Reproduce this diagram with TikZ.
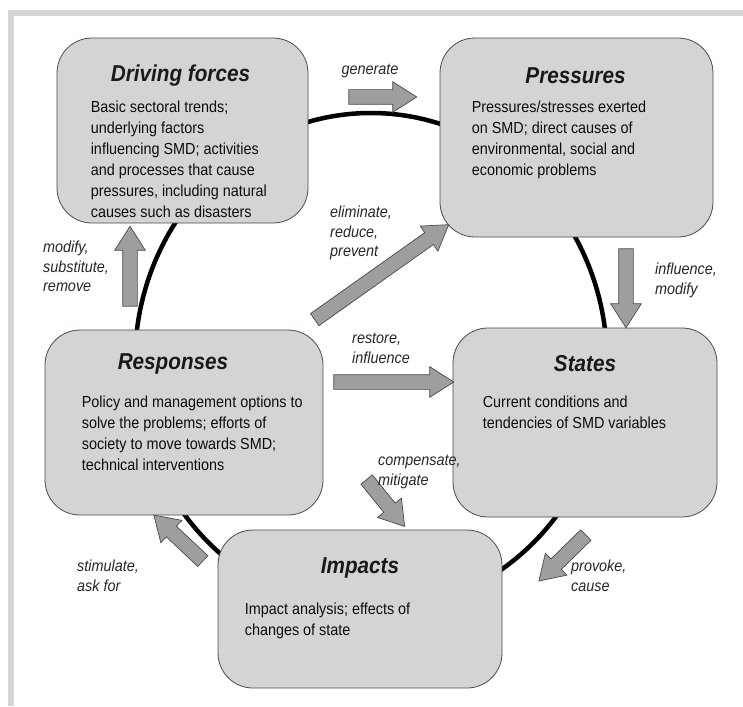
\documentclass[tikz,border=0pt]{standalone}
\usepackage{fontspec}
\setmainfont{Liberation Sans}[FakeStretch=0.9]
\usetikzlibrary{shapes.arrows,calc}
\definecolor{boxgray}{HTML}{D3D4D6}
\definecolor{arrowgray}{HTML}{9E9E9E}
\definecolor{edgegray}{HTML}{4A4A4A}
\definecolor{framegray}{HTML}{D6D6D6}

\begin{document}
\begin{tikzpicture}[x=1pt,y=-1pt,
    block/.style={draw=edgegray, line width=0.8pt, fill=boxgray, rounded corners=35pt, inner sep=0pt},
    heading/.style={font=\fontsize{23}{26}\selectfont\bfseries\itshape, text=black!90, inner sep=0pt},
    desc/.style={anchor=north west, align=left, font=\fontsize{16}{21}\selectfont, text=black!95, inner sep=0pt},
    tag/.style={anchor=north west, align=left, font=\fontsize{16}{19.5}\selectfont\itshape, text=black!85, inner sep=0pt},
    fat/.style={single arrow, draw=edgegray, line width=0.7pt, fill=arrowgray, inner sep=0pt, inner ysep=7pt,
                single arrow head extend=8pt, single arrow tip angle=65, sloped, allow upside down}]
\useasboundingbox (0,0) rectangle (743,706);
% frame
\fill[framegray] (8,10) rectangle (743,16);
\fill[framegray] (8,10) rectangle (14,706);
% ring
\draw[line width=4.5pt] (371,362) ellipse [x radius=236pt, y radius=249pt];

% boxes
\node[block, minimum width=251pt, minimum height=185pt] (drv) at (182.5,130.5) {};
\node[block, minimum width=273pt, minimum height=199pt] (prs) at (576.5,137.5) {};
\node[block, minimum width=278pt, minimum height=185pt] (rsp) at (184,422.5) {};
\node[block, minimum width=264pt, minimum height=189pt] (sta) at (585,422.5) {};
\node[block, minimum width=284pt, minimum height=158pt] (imp) at (360,609) {};

\node[heading] (drv-t) at ($(drv.north)+(-2,38)$) {Driving forces};
\node[heading] (prs-t) at ($(prs.north)+(-1,38)$) {Pressures};
\node[heading] (rsp-t) at ($(rsp.north)+(-11,34)$) {Responses};
\node[heading] (sta-t) at ($(sta.north)+(0,36)$) {States};
\node[heading] (imp-t) at ($(imp.north)+(0,38)$) {Impacts};

\node[desc] (drv-d) at ($(drv.north west)+(34,63)$) {Basic sectoral trends;\\underlying factors\\influencing SMD; activities\\and processes that cause\\pressures, including natural\\causes such as disasters};
\node[desc] (prs-d) at ($(prs.north west)+(32,63)$) {Pressures/stresses exerted\\on SMD; direct causes of\\environmental, social and\\economic problems};
\node[desc] (rsp-d) at ($(rsp.north west)+(37,66)$) {Policy and management options to\\solve the problems; efforts of\\society to move towards SMD;\\technical interventions};
\node[desc] (sta-d) at ($(sta.north west)+(30,68)$) {Current conditions and\\tendencies of SMD variables};
\node[desc] (imp-d) at ($(imp.north west)+(27,73)$) {Impact analysis; effects of\\changes of state};

% arrows
\coordinate (gen-s) at (343,97);   \coordinate (gen-e) at (411,97);
\coordinate (mod-s) at (130,312);  \coordinate (mod-e) at (130,232);
\coordinate (eli-s) at (310,323);  \coordinate (eli-e) at (444,228);
\coordinate (inf-s) at (626,243);  \coordinate (inf-e) at (626,322);
\coordinate (res-s) at (328,382);  \coordinate (res-e) at (448,382);
\coordinate (com-s) at (363,475);  \coordinate (com-e) at (401,522);
\coordinate (sti-s) at (207,565);  \coordinate (sti-e) at (158,519);
\coordinate (pro-s) at (590,531);  \coordinate (pro-e) at (543,577);
\foreach \s/\e in {gen-s/gen-e, mod-s/mod-e, eli-s/eli-e, inf-s/inf-e,
                   res-s/res-e, com-s/com-e, sti-s/sti-e, pro-s/pro-e}
  \path let \p1=($(\e)-(\s)$), \n1={veclen(\x1,\y1)} in
    (\s) -- (\e) node[fat, midway, minimum height=\n1] {};

% labels
\node[tag, anchor=base] (gen-l) at (370,75) {generate};
\node[tag] (mod-l) at (43,241) {modify,\\substitute,\\remove};
\node[tag] (eli-l) at (330,206) {eliminate,\\reduce,\\prevent};
\node[tag] (inf-l) at (655,263) {influence,\\modify};
\node[tag] (res-l) at (352,333) {restore,\\influence};
\node[tag] (com-l) at (378,455) {compensate,\\mitigate};
\node[tag] (sti-l) at (77,560) {stimulate,\\ask for};
\node[tag] (pro-l) at (571,560) {provoke,\\cause};
\end{tikzpicture}
\end{document}
